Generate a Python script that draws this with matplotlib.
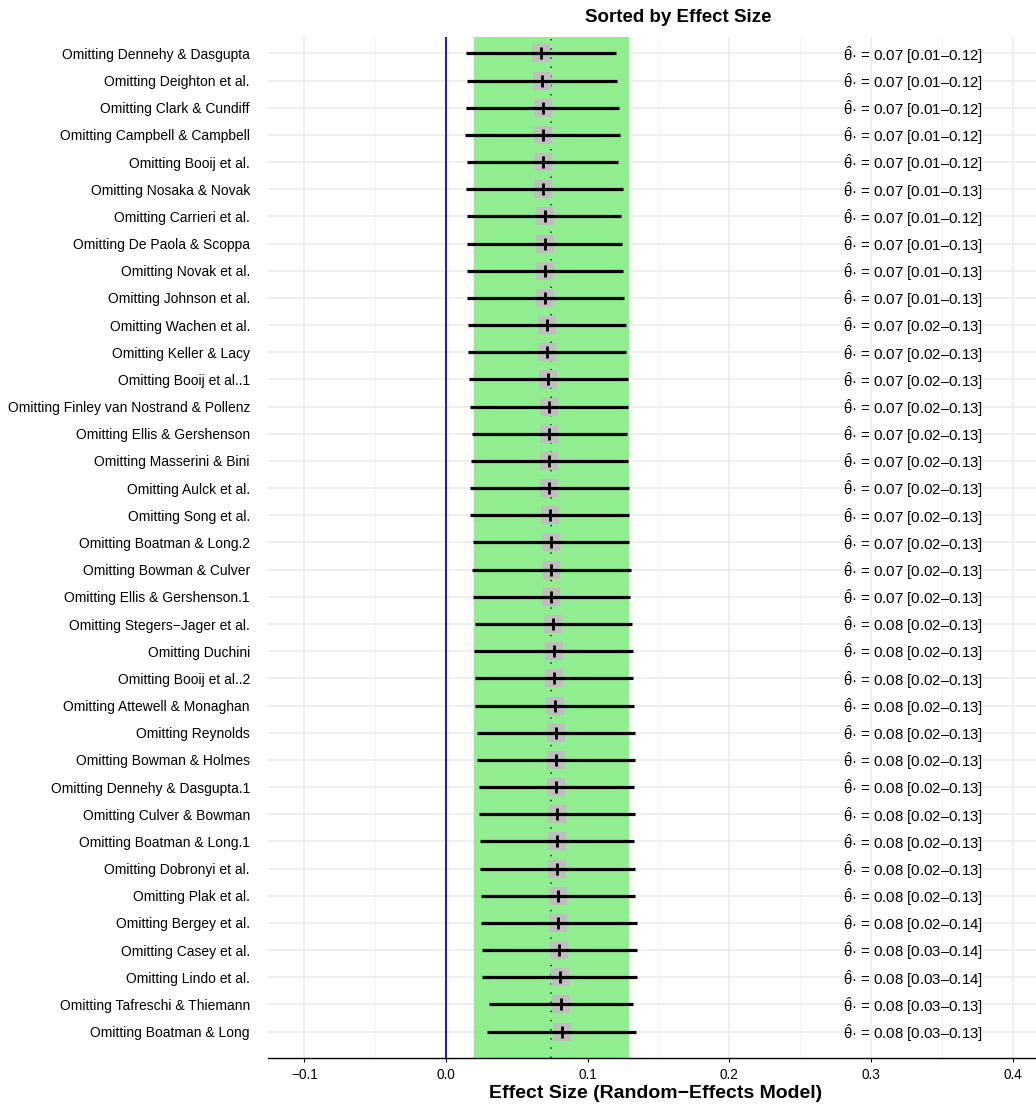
import matplotlib
matplotlib.use("Agg")
import matplotlib.pyplot as plt
import numpy as np

plt.rcParams['font.family'] = ['Liberation Sans', 'DejaVu Sans']
plt.rcParams['mathtext.fontset'] = 'custom'
plt.rcParams['mathtext.rm'] = 'Liberation Sans'
plt.rcParams['mathtext.it'] = 'Liberation Sans'

# leave-one-out results, sorted by effect size (top to bottom)
studies = [
    "Omitting Dennehy & Dasgupta", "Omitting Deighton et al.", "Omitting Clark & Cundiff",
    "Omitting Campbell & Campbell", "Omitting Booij et al.", "Omitting Nosaka & Novak",
    "Omitting Carrieri et al.", "Omitting De Paola & Scoppa", "Omitting Novak et al.",
    "Omitting Johnson et al.", "Omitting Wachen et al.", "Omitting Keller & Lacy",
    "Omitting Booij et al..1", "Omitting Finley van Nostrand & Pollenz",
    "Omitting Ellis & Gershenson", "Omitting Masserini & Bini", "Omitting Aulck et al.",
    "Omitting Song et al.", "Omitting Boatman & Long.2", "Omitting Bowman & Culver",
    "Omitting Ellis & Gershenson.1", "Omitting Stegers\u2212Jager et al.", "Omitting Duchini",
    "Omitting Booij et al..2", "Omitting Attewell & Monaghan", "Omitting Reynolds",
    "Omitting Bowman & Holmes", "Omitting Dennehy & Dasgupta.1", "Omitting Culver & Bowman",
    "Omitting Boatman & Long.1", "Omitting Dobronyi et al.", "Omitting Plak et al.",
    "Omitting Bergey et al.", "Omitting Casey et al.", "Omitting Lindo et al.",
    "Omitting Tafreschi & Thiemann", "Omitting Boatman & Long",
]
estimate = [0.0670, 0.0677, 0.0683, 0.0683, 0.0683, 0.0688, 0.0697, 0.0697, 0.0697,
            0.0702, 0.0713, 0.0716, 0.0720, 0.0725, 0.0730, 0.0728, 0.0728, 0.0732,
            0.0742, 0.0742, 0.0744, 0.0756, 0.0761, 0.0765, 0.0767, 0.0775, 0.0775,
            0.0779, 0.0784, 0.0784, 0.0787, 0.0791, 0.0794, 0.0801, 0.0803, 0.0812,
            0.0817]
lower = [0.0141, 0.0147, 0.0141, 0.0134, 0.0147, 0.0141, 0.0147, 0.0146, 0.0146,
         0.0147, 0.0155, 0.0157, 0.0164, 0.0167, 0.0181, 0.0174, 0.0167, 0.0171,
         0.0190, 0.0183, 0.0192, 0.0204, 0.0200, 0.0207, 0.0207, 0.0217, 0.0218,
         0.0232, 0.0232, 0.0239, 0.0239, 0.0244, 0.0244, 0.0253, 0.0253, 0.0301,
         0.0291]
upper = [0.1200, 0.1210, 0.1220, 0.1227, 0.1217, 0.1247, 0.1237, 0.1244, 0.1247,
         0.1253, 0.1267, 0.1272, 0.1282, 0.1284, 0.1279, 0.1287, 0.1293, 0.1293,
         0.1290, 0.1305, 0.1301, 0.1310, 0.1317, 0.1322, 0.1324, 0.1331, 0.1331,
         0.1324, 0.1336, 0.1327, 0.1337, 0.1337, 0.1347, 0.1347, 0.1350, 0.1322,
         0.1343]
summary = [
    "0.07 [0.01\u20130.12]", "0.07 [0.01\u20130.12]", "0.07 [0.01\u20130.12]",
    "0.07 [0.01\u20130.12]", "0.07 [0.01\u20130.12]", "0.07 [0.01\u20130.13]",
    "0.07 [0.01\u20130.12]", "0.07 [0.01\u20130.13]", "0.07 [0.01\u20130.13]",
    "0.07 [0.01\u20130.13]", "0.07 [0.02\u20130.13]", "0.07 [0.02\u20130.13]",
    "0.07 [0.02\u20130.13]", "0.07 [0.02\u20130.13]", "0.07 [0.02\u20130.13]",
    "0.07 [0.02\u20130.13]", "0.07 [0.02\u20130.13]", "0.07 [0.02\u20130.13]",
    "0.07 [0.02\u20130.13]", "0.07 [0.02\u20130.13]", "0.07 [0.02\u20130.13]",
    "0.08 [0.02\u20130.13]", "0.08 [0.02\u20130.13]", "0.08 [0.02\u20130.13]",
    "0.08 [0.02\u20130.13]", "0.08 [0.02\u20130.13]", "0.08 [0.02\u20130.13]",
    "0.08 [0.02\u20130.13]", "0.08 [0.02\u20130.13]", "0.08 [0.02\u20130.13]",
    "0.08 [0.02\u20130.13]", "0.08 [0.02\u20130.13]", "0.08 [0.02\u20130.14]",
    "0.08 [0.03\u20130.14]", "0.08 [0.03\u20130.14]", "0.08 [0.03\u20130.13]",
    "0.08 [0.03\u20130.13]",
]
pooled = 0.0740
pooled_ci = (0.0198, 0.1282)

fig = plt.figure(figsize=(10.36, 11.06), dpi=100)
ax = fig.add_axes([0.2587, 0.0434, 0.7413, 0.9231])

n = len(studies)
y = np.arange(n)

# grid
for t in np.arange(-0.1, 0.41, 0.1):
    ax.axvline(t, color='#EBEBEB', lw=1.1, zorder=0)
for t in np.arange(-0.05, 0.41, 0.1):
    ax.axvline(t, color='#F2F2F2', lw=0.6, zorder=0)
for yy in y:
    ax.axhline(yy, color='#EBEBEB', lw=1.1, zorder=0)

# pooled CI band and pooled effect
ax.axvspan(pooled_ci[0], pooled_ci[1], color='#90EE90', zorder=1)
ax.axvline(pooled, color='#0B3D0B', lw=1.1, ls=(0, (1, 5)), zorder=2)
ax.axvline(0, color='blue', lw=1.3, zorder=2)

# studies
ax.scatter(estimate, y, marker='s', s=170, color='#BEBEBE', zorder=3, linewidths=0)
ax.hlines(y, lower, upper, color='black', lw=2.3, zorder=4)
ax.scatter(estimate, y, marker='|', s=80, color='black', linewidths=2.0, zorder=5)

for yy, txt in zip(y, summary):
    ax.text(0.2800, yy + 0.05, r"$\hat{\theta}$" + "\u00b7 = " + txt, fontsize=10.8,
            va='center', ha='left', zorder=6)

ax.set_xlim(-0.1256, 0.4164)
ax.set_ylim(n - 1 + 0.97, -0.6)
ax.set_xticks(np.arange(-0.1, 0.41, 0.1))
ax.set_xticklabels(["\u22120.1", "0.0", "0.1", "0.2", "0.3", "0.4"], fontsize=9.8)
ax.set_yticks(y)
ax.set_yticklabels(studies, fontsize=10)
ax.tick_params(axis='y', length=0, pad=13)
ax.tick_params(axis='x', length=3, width=0.8, pad=4)
for s in ['top', 'right', 'left']:
    ax.spines[s].set_visible(False)
ax.spines['bottom'].set_linewidth(1.0)

fig.text(678 / 1036, 1 - 17 / 1106, "Sorted by Effect Size", fontsize=13.5,
         fontweight='bold', ha='center', va='center')
fig.text(656 / 1036, 1 - 1094 / 1106, "Effect Size (Random\u2212Effects Model)",
         fontsize=14, fontweight='bold', ha='center', va='center')

fig.savefig("out.png", dpi=100)
